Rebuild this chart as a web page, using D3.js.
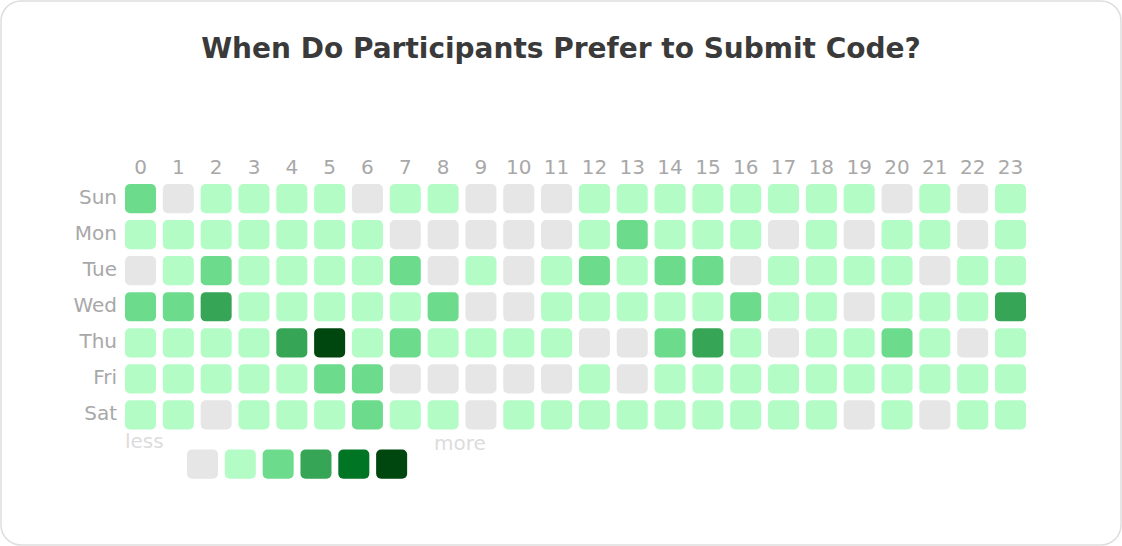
<!DOCTYPE html>
<html>
<head>
<meta charset="utf-8">
<script src="https://cdn.jsdelivr.net/npm/d3@7"></script>
<style>
  body { margin: 0; background: #fff; font-family: "DejaVu Sans", sans-serif; }
</style>
</head>
<body>
<script>
const width = 1122;
const height = 546;

const days = ["Sun", "Mon", "Tue", "Wed", "Thu", "Fri", "Sat"];
const hours = d3.range(24).map(String);
const levelColors = ["#e6e6e6", "#b3fcc6", "#6cdc8c", "#36a555", "#007524", "#00470f"];

// activity level per day (rows) and hour (columns), 0 = none .. 5 = most
const sunLevels = [2,0,1,1,1,1,0,1,1,0,0,0,1,1,1,1,1,1,1,1,0,1,0,1];
const monLevels = [1,1,1,1,1,1,1,0,0,0,0,0,1,2,1,1,1,0,1,0,1,1,0,1];
const tueLevels = [0,1,2,1,1,1,1,2,0,1,0,1,2,1,2,2,0,1,1,1,1,0,1,1];
const wedLevels = [2,2,3,1,1,1,1,1,2,0,0,1,1,1,1,1,2,1,1,0,1,1,1,3];
const thuLevels = [1,1,1,1,3,5,1,2,1,1,1,1,0,0,2,3,1,0,1,1,2,1,0,1];
const friLevels = [1,1,1,1,1,2,2,0,0,0,0,0,1,0,1,1,1,1,1,1,1,1,1,1];
const satLevels = [1,1,0,1,1,1,2,1,1,0,1,1,1,1,1,1,1,1,1,0,1,0,1,1];

const rows = [sunLevels, monLevels, tueLevels, wedLevels, thuLevels, friLevels, satLevels];

const cells = [];
rows.forEach((r, i) => {
  r.forEach((v, h) => cells.push({ day: days[i], hour: hours[h], level: v }));
});

const svg = d3.select("body")
  .append("svg")
  .attr("width", width)
  .attr("height", height);

// card
svg.append("rect")
  .attr("x", 1)
  .attr("y", 1)
  .attr("width", width - 2)
  .attr("height", height - 2)
  .attr("rx", 20)
  .attr("fill", "#fff")
  .attr("stroke", "#dedede")
  .attr("stroke-width", 1.5);

svg.append("text")
  .attr("x", width / 2)
  .attr("y", 58)
  .attr("text-anchor", "middle")
  .style("font-size", "28px")
  .style("font-weight", "bold")
  .style("fill", "#3a3a3a")
  .text("When Do Participants Prefer to Submit Code?");

const x = d3.scaleBand()
  .domain(hours)
  .range([125, 1026])
  .paddingInner(0.18);

const y = d3.scaleBand()
  .domain(days)
  .range([184, 429.5])
  .paddingInner(0.19);

const color = d3.scaleOrdinal()
  .domain(d3.range(levelColors.length))
  .range(levelColors);

const xAxis = svg.append("g")
  .attr("transform", "translate(0,174)")
  .call(d3.axisTop(x).tickSize(0).tickPadding(0));
xAxis.select(".domain").remove();
xAxis.selectAll("text")
  .style("font-family", "DejaVu Sans")
  .style("font-size", "20px")
  .style("fill", "#a8a8a8")
  .attr("dy", 0);

const yAxis = svg.append("g")
  .attr("transform", "translate(117,-1.5)")
  .call(d3.axisLeft(y).tickSize(0).tickPadding(0));
yAxis.select(".domain").remove();
yAxis.selectAll("text")
  .style("font-family", "DejaVu Sans")
  .style("font-size", "20px")
  .style("fill", "#a8a8a8");

svg.append("g")
  .selectAll("rect")
  .data(cells)
  .join("rect")
  .attr("x", d => x(d.hour))
  .attr("y", d => y(d.day))
  .attr("width", x.bandwidth())
  .attr("height", y.bandwidth())
  .attr("rx", 5)
  .attr("fill", d => color(d.level));

// legend
const legend = svg.append("g");
legend.selectAll("rect")
  .data(levelColors)
  .join("rect")
  .attr("x", (d, i) => 187 + i * x.step())
  .attr("y", 449.5)
  .attr("width", x.bandwidth())
  .attr("height", y.bandwidth())
  .attr("rx", 5)
  .attr("fill", d => d);

legend.append("text")
  .attr("x", 125)
  .attr("y", 448)
  .style("font-size", "20px")
  .style("fill", "#dcdcdc")
  .text("less");

legend.append("text")
  .attr("x", 434)
  .attr("y", 450)
  .style("font-size", "20px")
  .style("fill", "#dcdcdc")
  .text("more");
</script>
</body>
</html>
